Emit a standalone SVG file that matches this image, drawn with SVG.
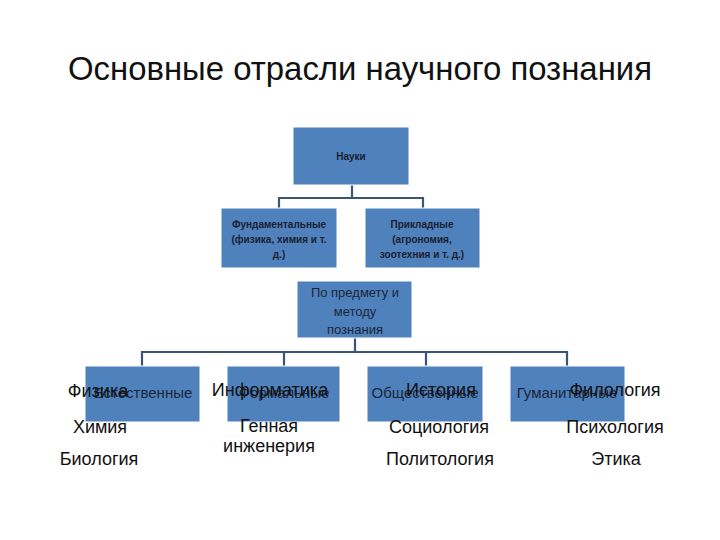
<svg xmlns="http://www.w3.org/2000/svg" width="720" height="540" viewBox="0 0 720 540">
<style>
.box{fill:#4F81BD;stroke:#ffffff;stroke-width:1}
.con{fill:none;stroke:#3A5573;stroke-width:2.2}
.title{font-family:"Liberation Sans",Arial,sans-serif;font-size:33px;fill:#111}
.sb{font-family:"Liberation Sans",Arial,sans-serif;font-size:10px;font-weight:bold;fill:#1a2030;text-anchor:middle}
.sm{font-family:"Liberation Sans",Arial,sans-serif;font-size:13px;fill:#1a2638;text-anchor:middle}
.bx{font-family:"Liberation Sans",Arial,sans-serif;font-size:15px;fill:#1a2638;text-anchor:middle}
.ov{font-family:"Liberation Sans",Arial,sans-serif;font-size:18px;fill:#111;text-anchor:middle}
</style>
<rect width="720" height="540" fill="#ffffff"/>
<text class="title" x="68" y="80" textLength="584" lengthAdjust="spacingAndGlyphs">Основные отрасли научного познания</text>
<g id="connectors">
<path class="con" d="M352 185 V198 M279 198 H423 M279 197 V209 M423 197 V209"/>
<path class="con" d="M355 338 V352 M142 352 H567 M142 351 V366 M284 351 V366 M426 351 V366 M567 351 V366"/>
</g>
<g id="nauki">
<rect class="box" x="293" y="127" width="116" height="58"/>
<text class="sb" x="351" y="160">Науки</text>
</g>
<g id="fundamental">
<rect class="box" x="221" y="208" width="116" height="60"/>
<text class="sb" x="279" y="228">Фундаментальные</text>
<text class="sb" x="279" y="243">(физика, химия и т.</text>
<text class="sb" x="279" y="258">д.)</text>
</g>
<g id="prikladnye">
<rect class="box" x="365" y="208" width="115" height="60"/>
<text class="sb" x="422" y="228">Прикладные</text>
<text class="sb" x="422" y="243">(агрономия,</text>
<text class="sb" x="422" y="258">зоотехния и т. д.)</text>
</g>
<g id="po-predmetu">
<rect class="box" x="297" y="281" width="115" height="57"/>
<text class="sm" x="355" y="297">По предмету и</text>
<text class="sm" x="355" y="316">методу</text>
<text class="sm" x="355" y="334">познания</text>
</g>
<g id="estestvennye">
<rect class="box" x="85" y="366" width="115" height="56"/>
<text class="bx" x="143" y="398">Естественные</text>
<text class="ov" x="98" y="397">Физика</text>
<text class="ov" x="100" y="433">Химия</text>
<text class="ov" x="99" y="465">Биология</text>
</g>
<g id="formalnye">
<rect class="box" x="227" y="366" width="113" height="56"/>
<text class="bx" x="284" y="398">Формальные</text>
<text class="ov" x="270" y="396">Информатика</text>
<text class="ov" x="269" y="432">Генная</text>
<text class="ov" x="269" y="452">инженерия</text>
</g>
<g id="obshchestvennye">
<rect class="box" x="367" y="366" width="116" height="56"/>
<text class="bx" x="425" y="398">Общественные</text>
<text class="ov" x="441" y="396">История</text>
<text class="ov" x="439" y="433">Социология</text>
<text class="ov" x="440" y="465">Политология</text>
</g>
<g id="gumanitarnye">
<rect class="box" x="510" y="366" width="115" height="56"/>
<text class="bx" x="567" y="398">Гуманитарные</text>
<text class="ov" x="615" y="396">Филология</text>
<text class="ov" x="615" y="433">Психология</text>
<text class="ov" x="616" y="465">Этика</text>
</g>
</svg>
